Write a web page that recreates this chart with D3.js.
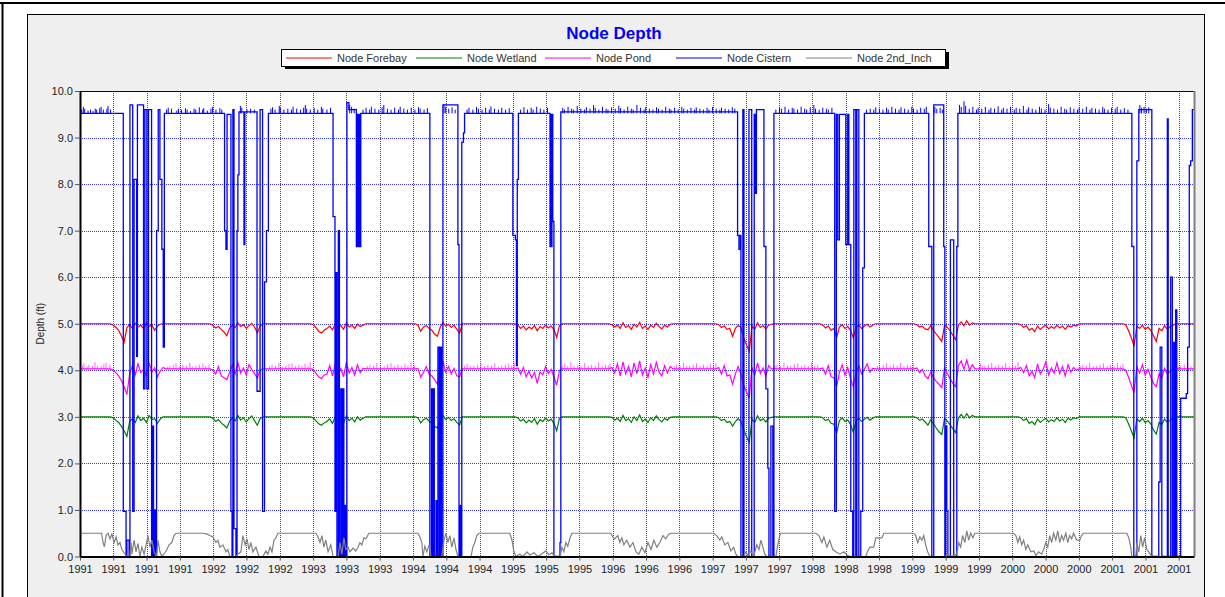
<!DOCTYPE html>
<html>
<head>
<meta charset="utf-8">
<script src="https://cdn.jsdelivr.net/npm/d3@7"></script>
<style>
  html, body { margin: 0; padding: 0; background: #fff; }
  svg { display: block; font-family: "Liberation Sans", Arial, sans-serif; }
</style>
</head>
<body>
<div id="chart"></div>
<script>
const WIDTH = 1225
const HEIGHT = 597
const PLOT = {left: 80, right: 1194, top: 91, bottom: 556.5}

// time axis: days since 1 Jan 1991
const DAY_MIN = 0
const DAY_MAX = 4015
const tickDays = [0, 120, 240, 360, 480, 600, 720, 840, 960, 1080, 1200, 1320, 1440, 1560, 1680, 1800,
  1920, 2040, 2160, 2280, 2400, 2520, 2640, 2760, 2880, 3000, 3120, 3240, 3360, 3480, 3600, 3720, 3840, 3960]
const tickLabels = ["1991", "1991", "1991", "1991", "1992", "1992", "1992", "1993", "1993", "1993",
  "1994", "1994", "1994", "1995", "1995", "1995", "1996", "1996", "1996", "1997", "1997", "1997",
  "1998", "1998", "1998", "1999", "1999", "1999", "2000", "2000", "2000", "2001", "2001", "2001"]
const depthTicks = [0, 1, 2, 3, 4, 5, 6, 7, 8, 9, 10]

const seriesNames = ["Node Forebay", "Node Wetland", "Node Pond", "Node Cistern", "Node 2nd_Inch"]
const seriesColors = ["#ff0000", "#008000", "#ff00ff", "#0000ff", "#808080"]

// resting levels (ft)
const forebayBase = 5.0
const wetlandBase = 3.0
const pondBase = 4.03
const cisternBase = 9.52

// noisy stretches of forebay / wetland / pond, sampled every NOISE_STEP days
const NOISE_STEP = 10
const noiseStarts = [119, 479, 840, 1218, 1578, 1917, 2302, 2677, 3016, 3391, 3769]

const forebayNoise = [
  [4.97, 4.93, 4.86, 4.74, 4.60, 4.92, 4.98, 4.90, 5.01, 4.93, 4.97, 4.89, 5.02, 4.94, 4.97, 4.86, 4.95, 4.99, 5.0],
  [4.96, 4.91, 4.94, 4.88, 4.82, 4.74, 4.90, 4.97, 4.92, 5.02, 4.94, 4.98, 4.90, 4.96, 5.01, 4.93, 4.80, 4.95],
  [4.98, 4.92, 4.84, 4.80, 4.86, 4.90, 4.95, 4.87, 4.99, 4.91, 4.96, 4.88, 5.02, 4.93, 4.97, 4.90, 4.99, 4.94, 4.97, 5.0],
  [4.97, 4.84, 4.93, 4.96, 4.90, 4.86, 4.78, 4.73, 4.92, 5.03, 4.95, 4.99, 4.92, 4.97, 4.88, 4.80],
  [4.97, 4.90, 4.95, 4.87, 4.93, 4.89, 4.96, 4.85, 4.94, 4.90, 4.97, 4.91, 4.95, 4.88, 4.71, 4.96],
  [4.98, 4.93, 4.97, 4.90, 5.02, 4.92, 4.96, 4.88, 4.99, 4.93, 5.03, 4.90, 4.95, 4.88, 4.97, 4.92, 5.01, 4.94, 4.89, 4.97, 4.93, 4.99, 5.0],
  [4.98, 4.92, 4.95, 4.88, 4.90, 4.73, 4.90, 4.96, 4.92, 4.70, 4.55, 4.41, 4.95, 4.88, 5.02, 4.92, 4.96, 4.89, 4.97, 4.99],
  [4.97, 4.91, 4.95, 4.86, 4.90, 4.70, 4.93, 4.98, 4.90, 4.94, 4.86, 4.70, 4.92, 4.97, 4.90, 4.95, 4.99, 4.93, 4.97, 5.0],
  [4.98, 4.93, 4.95, 4.89, 4.87, 4.96, 4.86, 4.78, 4.70, 4.62, 4.97, 4.92, 4.85, 4.75, 4.66, 4.98, 5.04, 4.96, 5.06, 4.97, 5.02, 5.0],
  [4.98, 4.92, 4.96, 4.86, 4.90, 4.83, 4.95, 4.88, 4.93, 4.97, 4.89, 4.94, 4.90, 4.97, 4.91, 4.95, 4.88, 4.96, 4.93, 4.97, 4.95],
  [4.98, 4.85, 4.70, 4.52, 4.95, 4.90, 4.97, 4.88, 4.93, 4.86, 4.74, 4.62, 4.90, 4.85, 4.96, 4.88, 4.94, 4.97, 5.0]
]

const wetlandNoise = [
  [2.98, 2.93, 2.88, 2.80, 2.70, 2.58, 2.90, 2.96, 2.88, 3.02, 2.92, 2.97, 2.88, 3.03, 2.94, 2.96, 2.86, 2.95, 3.0],
  [2.97, 2.90, 2.94, 2.87, 2.82, 2.76, 2.90, 2.98, 2.91, 3.03, 2.93, 2.98, 2.89, 2.96, 3.02, 2.92, 2.82, 2.96],
  [2.98, 2.92, 2.85, 2.82, 2.87, 2.90, 2.96, 2.86, 3.00, 2.90, 2.96, 2.87, 3.02, 2.92, 2.97, 2.89, 3.00, 2.93, 2.97, 3.0],
  [2.98, 2.87, 2.94, 2.97, 2.91, 2.86, 2.80, 2.76, 2.92, 3.03, 2.94, 2.99, 2.92, 2.96, 2.88, 2.82],
  [2.98, 2.91, 2.95, 2.87, 2.93, 2.88, 2.96, 2.84, 2.94, 2.90, 2.97, 2.91, 2.95, 2.86, 2.70, 2.97],
  [2.99, 2.93, 2.97, 2.90, 3.03, 2.92, 2.96, 2.88, 3.00, 2.92, 3.04, 2.90, 2.95, 2.88, 2.98, 2.92, 3.02, 2.94, 2.89, 2.97, 2.93, 2.99, 3.0],
  [2.98, 2.92, 2.95, 2.88, 2.90, 2.80, 2.90, 2.96, 2.90, 2.72, 2.58, 2.45, 2.95, 2.88, 3.02, 2.92, 2.96, 2.89, 2.97, 2.99],
  [2.98, 2.92, 2.95, 2.86, 2.84, 2.65, 2.92, 2.98, 2.90, 2.93, 2.84, 2.67, 2.92, 2.97, 2.90, 2.95, 2.99, 2.93, 2.97, 3.0],
  [2.98, 2.93, 2.95, 2.89, 2.82, 2.94, 2.85, 2.76, 2.68, 2.62, 2.97, 2.91, 2.83, 2.74, 2.66, 2.98, 3.05, 2.97, 3.07, 2.98, 3.03, 3.0],
  [2.98, 2.92, 2.96, 2.86, 2.90, 2.83, 2.95, 2.88, 2.93, 2.97, 2.89, 2.94, 2.90, 2.98, 2.91, 2.95, 2.88, 2.97, 2.93, 2.98, 2.96],
  [2.98, 2.85, 2.70, 2.55, 2.96, 2.90, 2.97, 2.88, 2.92, 2.85, 2.72, 2.63, 2.88, 2.84, 2.95, 2.88, 2.93, 2.97, 3.0]
]

const pondNoise = [
  [4.00, 3.95, 3.88, 3.78, 3.65, 3.48, 3.93, 4.10, 3.90, 4.14, 3.95, 4.02, 3.88, 4.16, 3.96, 4.05, 3.86, 3.98, 4.06],
  [4.00, 3.92, 4.08, 3.88, 3.84, 3.80, 3.95, 4.12, 3.92, 4.16, 3.94, 4.05, 3.90, 4.12, 4.02, 3.93, 3.83, 4.00],
  [4.02, 3.94, 3.86, 3.82, 3.90, 3.92, 4.10, 3.88, 4.14, 3.92, 4.04, 3.86, 4.18, 3.94, 4.06, 3.90, 4.12, 3.95, 4.04, 4.03],
  [4.04, 3.85, 3.96, 4.08, 3.92, 3.88, 3.80, 3.70, 3.95, 4.20, 3.96, 4.08, 3.92, 4.04, 3.88, 3.86],
  [4.05, 3.92, 4.06, 3.86, 3.98, 3.84, 3.95, 3.72, 3.96, 3.90, 4.08, 3.93, 4.02, 3.86, 3.68, 4.00],
  [4.06, 3.94, 4.14, 3.88, 4.18, 3.92, 4.08, 3.86, 4.16, 3.93, 4.20, 3.90, 4.05, 3.85, 4.12, 3.92, 4.17, 3.96, 3.88, 4.10, 3.94, 4.08, 4.03],
  [4.06, 3.92, 4.10, 3.88, 3.90, 3.70, 3.92, 4.08, 3.92, 3.68, 3.54, 3.40, 4.06, 3.90, 4.16, 3.93, 4.05, 3.88, 4.10, 4.03],
  [4.05, 3.92, 4.10, 3.86, 3.84, 3.65, 3.95, 4.12, 3.90, 4.06, 3.82, 3.65, 3.94, 4.10, 3.92, 4.02, 4.14, 3.96, 4.04, 4.03],
  [4.05, 3.95, 4.02, 3.88, 3.82, 3.96, 3.84, 3.76, 3.70, 3.63, 4.06, 3.93, 3.82, 3.72, 3.65, 4.10, 4.20, 4.02, 4.22, 4.00, 4.12, 4.03],
  [4.06, 3.95, 4.10, 3.88, 3.98, 3.84, 4.14, 3.92, 4.02, 4.18, 3.90, 4.05, 3.94, 4.16, 3.93, 4.08, 3.88, 4.12, 3.96, 4.06, 4.00],
  [4.00, 3.85, 3.68, 3.52, 4.08, 3.94, 4.12, 3.90, 4.02, 3.86, 3.72, 3.65, 3.92, 3.84, 4.04, 3.92, 3.98, 4.03, 4.03]
]

// short upward blips of the pond between the noisy stretches [day, depth]
const pondSpikes = [
  [9, 4.1], [14, 4.15], [26, 4.08], [32, 4.12], [45, 4.09], [54, 4.18], [63, 4.1], [76, 4.1], [86, 4.13], [94, 4.16], [108, 4.12],
  [316, 4.08], [324, 4.1], [336, 4.12], [346, 4.15], [360, 4.09], [371, 4.12], [384, 4.1], [396, 4.16], [405, 4.08],
  [418, 4.1], [430, 4.12], [443, 4.14], [452, 4.09], [465, 4.12],
  [683, 4.09], [692, 4.12], [705, 4.1], [717, 4.16], [730, 4.08], [742, 4.1], [753, 4.13], [764, 4.15], [777, 4.09],
  [789, 4.12], [800, 4.1], [811, 4.14], [822, 4.09], [830, 4.17],
  [1036, 4.09], [1045, 4.12], [1058, 4.1], [1070, 4.16], [1083, 4.08], [1096, 4.1], [1108, 4.13], [1121, 4.15],
  [1133, 4.09], [1146, 4.12], [1159, 4.1], [1171, 4.14], [1182, 4.1], [1193, 4.18], [1206, 4.1],
  [1386, 4.1], [1395, 4.14], [1408, 4.09], [1420, 4.1], [1433, 4.12], [1445, 4.16], [1458, 4.09], [1470, 4.12],
  [1483, 4.1], [1495, 4.15], [1508, 4.08], [1520, 4.1], [1533, 4.12], [1545, 4.14], [1556, 4.1], [1565, 4.17],
  [1738, 4.1], [1747, 4.14], [1758, 4.09], [1769, 4.18], [1781, 4.1], [1794, 4.12], [1806, 4.09], [1819, 4.16],
  [1832, 4.1], [1844, 4.12], [1857, 4.1], [1869, 4.17], [1882, 4.09], [1894, 4.12], [1904, 4.1], [1910, 4.15],
  [2142, 4.09], [2150, 4.12], [2163, 4.1], [2175, 4.16], [2186, 4.09], [2197, 4.1], [2210, 4.12], [2222, 4.15],
  [2235, 4.09], [2247, 4.12], [2260, 4.1], [2272, 4.14], [2283, 4.1], [2292, 4.16],
  [2505, 4.1], [2512, 4.12], [2525, 4.09], [2537, 4.16], [2550, 4.1], [2562, 4.1], [2575, 4.13], [2587, 4.15],
  [2600, 4.09], [2612, 4.12], [2625, 4.1], [2637, 4.17], [2648, 4.1], [2659, 4.12],
  [2874, 4.09], [2882, 4.1], [2895, 4.12], [2907, 4.15], [2920, 4.09], [2932, 4.12], [2945, 4.1], [2957, 4.16],
  [2970, 4.09], [2982, 4.12], [2994, 4.1], [3005, 4.15],
  [3246, 4.14], [3253, 4.09], [3261, 4.1], [3274, 4.12], [3286, 4.16], [3299, 4.09], [3311, 4.12], [3324, 4.1],
  [3336, 4.15], [3349, 4.09], [3361, 4.12], [3372, 4.1], [3381, 4.18],
  [3607, 4.09], [3614, 4.12], [3627, 4.1], [3639, 4.16], [3652, 4.09], [3664, 4.1], [3677, 4.12], [3689, 4.15],
  [3702, 4.09], [3714, 4.12], [3727, 4.1], [3739, 4.16], [3750, 4.09], [3759, 4.13],
  [3960, 4.08], [3967, 4.1], [3980, 4.12], [3992, 4.14], [4004, 4.09]
]

// cistern depth changes [day, depth], held until the next entry
const cisternSteps = [
  [0, 9.52],
  [156, 0.97], [166, 0], [169, 0.35], [177, 0], [180, 9.7], [190, 0.97], [195, 8.1], [204, 4.3], [207, 9.7],
  [229, 3.6], [234, 9.6], [241, 3.6], [247, 9.6], [258, 0], [261, 2.8], [265, 0], [268, 1.0], [272, 0],
  [276, 7.0], [282, 9.6], [288, 8.1], [295, 6.6], [300, 4.5], [304, 9.52],
  [521, 7.0], [526, 6.6], [530, 9.5], [544, 0.97], [548, 0], [551, 9.6], [555, 0.6], [562, 0], [566, 7.0],
  [569, 8.2], [573, 9.55], [591, 6.7], [594, 9.55], [638, 3.55], [649, 9.6], [658, 0.97], [665, 5.9],
  [672, 7.0], [679, 9.52],
  [912, 7.3], [919, 0.97], [922, 6.1], [926, 0], [931, 7.0], [935, 0], [940, 3.6], [944, 0], [948, 3.6],
  [951, 0], [955, 1.1], [958, 0], [962, 9.75], [969, 9.6], [996, 6.66], [1000, 9.5], [1003, 6.66],
  [1007, 9.5], [1010, 6.66], [1012, 9.52],
  [1261, 0], [1267, 3.6], [1270, 0], [1274, 3.6], [1277, 0], [1283, 1.2], [1286, 0], [1290, 4.5], [1295, 0],
  [1299, 4.5], [1303, 0], [1308, 9.7], [1362, 6.7], [1366, 0], [1369, 1.1], [1373, 0], [1376, 8.9],
  [1382, 9.1], [1386, 9.52],
  [1560, 6.9], [1569, 6.8], [1573, 4.1], [1576, 8.1], [1580, 9.52], [1694, 6.66], [1696, 9.5], [1699, 6.66],
  [1701, 9.5], [1704, 7.2], [1708, 0], [1730, 0.3], [1733, 9.55],
  [2370, 6.9], [2375, 6.6], [2380, 6.9], [2382, 0], [2389, 9.6], [2393, 0], [2411, 9.6], [2421, 0],
  [2430, 9.5], [2434, 7.8], [2438, 9.6], [2465, 6.66], [2472, 3.6], [2479, 1.9], [2483, 0], [2490, 2.8],
  [2497, 0], [2501, 9.52],
  [2720, 0.97], [2726, 9.5], [2731, 6.8], [2737, 9.5], [2760, 6.7], [2767, 9.5], [2771, 6.7], [2778, 0.97],
  [2785, 0], [2789, 9.6], [2796, 0], [2800, 9.6], [2807, 0], [2814, 0.97], [2821, 6.2], [2827, 9.52],
  [3059, 6.66], [3070, 0], [3077, 9.7], [3113, 6.66], [3117, 0], [3120, 2.8], [3124, 0.97], [3128, 0],
  [3137, 6.8], [3149, 0], [3160, 6.66], [3164, 9.52],
  [3791, 6.66], [3798, 0], [3809, 8.5], [3816, 9.6], [3863, 0], [3888, 1.6], [3893, 4.5], [3899, 0],
  [3919, 9.4], [3922, 0], [3931, 6.0], [3937, 0], [3942, 4.6], [3946, 0], [3949, 5.3], [3953, 0],
  [3967, 3.4], [3987, 3.5], [3992, 4.5], [3998, 8.4], [4003, 8.5], [4009, 9.6], [4015, 9.6]
]

// short upward blips of the full cistern [day, depth]
const cisternSpikes = [
  [6, 9.6], [12, 9.66], [17, 9.62], [29, 9.58], [38, 9.6], [47, 9.57], [55, 9.62], [60, 9.6], [71, 9.63],
  [76, 9.66], [84, 9.6], [97, 9.62], [101, 9.68], [110, 9.6],
  [312, 9.6], [318, 9.64], [330, 9.62], [349, 9.58], [355, 9.62], [366, 9.6], [380, 9.63], [386, 9.6], [398, 9.57],
  [411, 9.62], [417, 9.6], [430, 9.65], [442, 9.6], [446, 9.63], [459, 9.58], [472, 9.62], [478, 9.66], [490, 9.6],
  [504, 9.63], [511, 9.6],
  [578, 9.68], [583, 9.64], [602, 9.6], [615, 9.62], [628, 9.6],
  [688, 9.62], [694, 9.65], [703, 9.6], [718, 9.68], [722, 9.64], [735, 9.6], [749, 9.62], [762, 9.6], [768, 9.66],
  [781, 9.62], [795, 9.6], [806, 9.64], [812, 9.7], [817, 9.62], [830, 9.6], [844, 9.63], [857, 9.6], [870, 9.66],
  [875, 9.62], [890, 9.6], [903, 9.64],
  [972, 9.7], [979, 9.66], [988, 9.62],
  [1020, 9.6], [1031, 9.64], [1044, 9.6], [1050, 9.66], [1063, 9.62], [1077, 9.6], [1089, 9.65], [1095, 9.7],
  [1108, 9.62], [1121, 9.6], [1134, 9.64], [1148, 9.6], [1154, 9.66], [1167, 9.62], [1180, 9.6], [1194, 9.64],
  [1207, 9.6], [1220, 9.65], [1226, 9.62], [1240, 9.6], [1252, 9.63],
  [1312, 9.72], [1318, 9.66], [1329, 9.62], [1341, 9.65], [1352, 9.6],
  [1395, 9.6], [1402, 9.64], [1416, 9.6], [1429, 9.66], [1436, 9.62], [1449, 9.6], [1462, 9.64], [1475, 9.6],
  [1481, 9.67], [1494, 9.62], [1508, 9.6], [1520, 9.64], [1534, 9.6], [1547, 9.63],
  [1588, 9.6], [1600, 9.65], [1613, 9.6], [1626, 9.64], [1633, 9.6], [1646, 9.66], [1659, 9.62], [1672, 9.6], [1685, 9.64],
  [1740, 9.64], [1746, 9.6], [1759, 9.66], [1772, 9.62], [1779, 9.6], [1792, 9.68], [1805, 9.62], [1818, 9.6],
  [1825, 9.65], [1838, 9.62], [1851, 9.7], [1857, 9.64], [1870, 9.6], [1883, 9.66], [1896, 9.62], [1903, 9.6],
  [1916, 9.65], [1929, 9.62], [1942, 9.68], [1948, 9.63], [1961, 9.6], [1974, 9.66], [1987, 9.62], [1994, 9.6],
  [2007, 9.7], [2020, 9.64], [2033, 9.6], [2039, 9.66], [2052, 9.62], [2065, 9.6], [2078, 9.65], [2085, 9.62],
  [2098, 9.6], [2111, 9.66], [2124, 9.62], [2130, 9.6], [2143, 9.64], [2156, 9.6], [2169, 9.66], [2176, 9.62],
  [2189, 9.6], [2202, 9.64], [2215, 9.6], [2221, 9.65], [2234, 9.62], [2247, 9.6], [2260, 9.64], [2267, 9.6],
  [2280, 9.66], [2293, 9.62], [2306, 9.6], [2312, 9.64], [2325, 9.62], [2338, 9.6], [2351, 9.65], [2360, 9.62],
  [2508, 9.6], [2521, 9.64], [2528, 9.62], [2541, 9.66], [2554, 9.6], [2567, 9.64], [2573, 9.62], [2586, 9.6],
  [2599, 9.66], [2612, 9.62], [2619, 9.6], [2632, 9.65], [2645, 9.7], [2651, 9.62], [2664, 9.6], [2677, 9.64],
  [2690, 9.62], [2697, 9.6], [2710, 9.64],
  [2835, 9.6], [2848, 9.62], [2861, 9.6], [2868, 9.65], [2881, 9.62], [2894, 9.6], [2907, 9.64], [2913, 9.6],
  [2926, 9.66], [2939, 9.62], [2952, 9.6], [2959, 9.65], [2972, 9.62], [2985, 9.6], [2998, 9.66], [3004, 9.62],
  [3017, 9.6], [3030, 9.64], [3043, 9.62], [3050, 9.66],
  [3081, 9.66], [3088, 9.62], [3100, 9.64], [3108, 9.6],
  [3170, 9.7], [3176, 9.66], [3186, 9.78], [3192, 9.68], [3205, 9.62], [3218, 9.66], [3231, 9.6], [3237, 9.64],
  [3250, 9.62], [3263, 9.66], [3276, 9.6], [3283, 9.64], [3296, 9.62], [3309, 9.67], [3322, 9.6], [3328, 9.64],
  [3341, 9.62], [3354, 9.66], [3367, 9.6], [3374, 9.64], [3387, 9.62], [3400, 9.68], [3413, 9.6], [3419, 9.65],
  [3432, 9.62], [3445, 9.6], [3458, 9.66], [3465, 9.62], [3478, 9.6], [3491, 9.72], [3497, 9.64], [3510, 9.62],
  [3523, 9.6], [3536, 9.66], [3549, 9.62], [3556, 9.6], [3569, 9.65], [3582, 9.62], [3595, 9.6], [3601, 9.64],
  [3614, 9.62], [3627, 9.66], [3640, 9.6], [3647, 9.64], [3660, 9.62], [3673, 9.6], [3686, 9.66], [3692, 9.62],
  [3705, 9.6], [3718, 9.64], [3731, 9.62], [3738, 9.66], [3751, 9.6], [3764, 9.63], [3777, 9.6],
  [3820, 9.7], [3826, 9.64], [3835, 9.66], [3843, 9.62], [3852, 9.65]
]

// 2nd inch storage depth [day, depth]
const inchPoints = [
  [0, 0.5], [78, 0.5], [83, 0.3], [88, 0.21], [94, 0.45], [101, 0.5], [108, 0.38], [115, 0.48], [123, 0.3],
  [130, 0.42], [137, 0.25], [144, 0.3], [151, 0.15], [159, 0.08], [168, 0], [180, 0], [184, 0.3], [187, 0.05],
  [195, 0.35], [202, 0.1], [209, 0.28], [216, 0], [223, 0.2], [231, 0.05], [240, 0.3], [245, 0.45], [252, 0.2],
  [259, 0.35], [267, 0.1], [276, 0], [281, 0.35], [288, 0.1], [295, 0], [306, 0.08], [313, 0.15], [321, 0.25],
  [331, 0.3], [339, 0.45], [346, 0.5],
  [443, 0.5], [458, 0.48], [468, 0.45], [479, 0.42], [490, 0.3], [497, 0.35], [504, 0.2], [515, 0.25],
  [526, 0.1], [533, 0.15], [540, 0], [562, 0], [569, 0.05], [580, 0.1], [587, 0.45], [595, 0.25], [602, 0.38],
  [609, 0.15], [616, 0.3], [623, 0.1], [634, 0.2], [645, 0], [659, 0], [670, 0.12], [677, 0.05], [685, 0.2],
  [692, 0.1], [699, 0.35], [706, 0.4], [713, 0.5],
  [850, 0.5], [858, 0.42], [865, 0.3], [872, 0.45], [879, 0.2], [886, 0.35], [894, 0.1], [904, 0.25], [912, 0],
  [930, 0], [937, 0.3], [944, 0.05], [951, 0.4], [958, 0.15], [966, 0.2], [973, 0.1], [984, 0.18], [994, 0.12],
  [1002, 0.2], [1009, 0.3], [1016, 0.25], [1023, 0.4], [1031, 0.38], [1041, 0.5],
  [1218, 0.5], [1225, 0.42], [1232, 0.3], [1236, 0], [1243, 0.22], [1250, 0.1], [1258, 0.25], [1265, 0],
  [1304, 0], [1312, 0.35], [1319, 0.5], [1326, 0.3], [1333, 0.45], [1340, 0.2], [1348, 0.4], [1355, 0.15],
  [1362, 0], [1409, 0], [1416, 0.2], [1423, 0.3], [1430, 0.45], [1438, 0.5],
  [1549, 0.5], [1557, 0.35], [1564, 0.1], [1571, 0], [1585, 0.05], [1596, 0], [1611, 0.1], [1621, 0.03],
  [1636, 0.08], [1650, 0], [1665, 0.06], [1679, 0.12], [1690, 0.04], [1701, 0.08], [1712, 0], [1730, 0],
  [1737, 0.2], [1744, 0.1], [1751, 0.3], [1758, 0.22], [1766, 0.4], [1773, 0.5],
  [1913, 0.5], [1920, 0.42], [1927, 0.38], [1938, 0.45], [1946, 0.3], [1953, 0.4], [1960, 0.25], [1971, 0.35],
  [1982, 0.2], [1993, 0.3], [2004, 0.1], [2014, 0.05], [2025, 0.2], [2036, 0.08], [2047, 0.3], [2058, 0.15],
  [2068, 0.35], [2079, 0.2], [2090, 0.3], [2101, 0.45], [2111, 0.38], [2122, 0.48], [2130, 0.5],
  [2284, 0.5], [2295, 0.45], [2306, 0.35], [2313, 0.42], [2324, 0.25], [2335, 0.3], [2346, 0.12], [2356, 0.2],
  [2364, 0.05], [2371, 0], [2393, 0], [2400, 0.1], [2407, 0.02], [2418, 0.12], [2428, 0], [2439, 0.25],
  [2447, 0.15], [2454, 0.35], [2461, 0.2], [2468, 0.05], [2475, 0], [2508, 0], [2515, 0.25], [2522, 0.45], [2526, 0.5],
  [2652, 0.5], [2663, 0.45], [2674, 0.3], [2681, 0.42], [2692, 0.2], [2702, 0.35], [2713, 0.15], [2724, 0.1],
  [2739, 0.05], [2753, 0.1], [2767, 0.02], [2775, 0], [2832, 0], [2839, 0.12], [2847, 0.2], [2861, 0.2],
  [2868, 0.4], [2890, 0.4], [2897, 0.5],
  [3005, 0.5], [3012, 0.45], [3019, 0.3], [3027, 0.42], [3034, 0.35], [3041, 0.45], [3048, 0.25], [3055, 0.1],
  [3063, 0], [3120, 0], [3128, 0.05], [3139, 0], [3160, 0.05], [3167, 0.3], [3174, 0.2], [3181, 0.45],
  [3189, 0.3], [3196, 0.55], [3203, 0.35], [3210, 0.5], [3218, 0.4], [3225, 0.5],
  [3365, 0.5], [3373, 0.45], [3380, 0.3], [3387, 0.42], [3394, 0.25], [3401, 0.35], [3409, 0.15], [3416, 0.25],
  [3427, 0.1], [3438, 0.12], [3445, 0.02], [3455, 0.1], [3466, 0.05], [3473, 0.15], [3481, 0.3], [3488, 0.2],
  [3495, 0.45], [3502, 0.3], [3509, 0.5], [3517, 0.35], [3524, 0.55], [3531, 0.3], [3538, 0.45], [3545, 0.35],
  [3553, 0.5], [3560, 0.3], [3567, 0.45], [3574, 0.38], [3581, 0.5], [3592, 0.35], [3603, 0.35], [3610, 0.45], [3617, 0.5],
  [3773, 0.5], [3780, 0.4], [3787, 0.2], [3791, 0], [3805, 0], [3809, 0.3], [3816, 0.1], [3823, 0.45],
  [3830, 0.2], [3837, 0.4], [3845, 0.15], [3852, 0.1], [3863, 0], [4015, 0]
]

// put a base level and its noisy stretches together into one point list
const buildSeries = (base, noise) => {
  const pts = [[DAY_MIN, base]]
  noise.forEach((vals, i) => {
    const start = noiseStarts[i]
    pts.push([start - NOISE_STEP, base])
    vals.forEach((v, j) => pts.push([start + j * NOISE_STEP, v]))
    pts.push([start + vals.length * NOISE_STEP, base])
  })
  pts.push([DAY_MAX, base])
  return pts
}

const forebay = buildSeries(forebayBase, forebayNoise)
const wetland = buildSeries(wetlandBase, wetlandNoise)
const pond = buildSeries(pondBase, pondNoise)

const x = d3.scaleLinear().domain([DAY_MIN, DAY_MAX]).range([PLOT.left, PLOT.right])
const y = d3.scaleLinear().domain([0, 10]).range([PLOT.bottom, PLOT.top])

const svg = d3.select("#chart")
  .append("svg")
  .attr("width", WIDTH)
  .attr("height", HEIGHT)

// frame and panel
svg.append("rect")
  .attr("x", 27.5).attr("y", 14.5)
  .attr("width", 1177).attr("height", 590)
  .attr("fill", "#efefef")
  .attr("stroke", "#000")
svg.append("line")
  .attr("x1", 0).attr("x2", WIDTH).attr("y1", 3).attr("y2", 3)
  .attr("stroke", "#000").attr("stroke-width", 2)
svg.append("line")
  .attr("x1", 2.5).attr("x2", 2.5).attr("y1", 2).attr("y2", HEIGHT)
  .attr("stroke", "#000").attr("stroke-width", 2)

svg.append("rect")
  .attr("x", PLOT.left).attr("y", PLOT.top)
  .attr("width", PLOT.right - PLOT.left).attr("height", PLOT.bottom - PLOT.top)
  .attr("fill", "#fff")

// title
svg.append("text")
  .attr("x", 614).attr("y", 39)
  .attr("text-anchor", "middle")
  .attr("font-size", 17)
  .attr("font-weight", "bold")
  .attr("fill", "#0000ff")
  .text("Node Depth")

// grid
const grid = svg.append("g")
  .attr("stroke", "#3a3aff")
  .attr("stroke-width", 1)
  .attr("stroke-dasharray", "1,1")
  .attr("shape-rendering", "crispEdges")
grid.selectAll("line.v")
  .data(tickDays.slice(1))
  .join("line")
  .attr("class", "v")
  .attr("x1", d => Math.round(x(d)) + 0.5).attr("x2", d => Math.round(x(d)) + 0.5)
  .attr("y1", PLOT.top).attr("y2", PLOT.bottom)
grid.selectAll("line.h")
  .data(depthTicks.slice(1, -1))
  .join("line")
  .attr("class", "h")
  .attr("x1", PLOT.left).attr("x2", PLOT.right)
  .attr("y1", d => Math.round(y(d)) + 0.5).attr("y2", d => Math.round(y(d)) + 0.5)

svg.append("clipPath")
  .attr("id", "plot-clip")
  .append("rect")
  .attr("x", PLOT.left).attr("y", PLOT.top)
  .attr("width", PLOT.right - PLOT.left).attr("height", PLOT.bottom - PLOT.top)

const lines = svg.append("g").attr("clip-path", "url(#plot-clip)").attr("fill", "none")

const lineLinear = d3.line().x(d => x(d[0])).y(d => y(d[1]))
const lineStep = d3.line().x(d => x(d[0])).y(d => y(d[1])).curve(d3.curveStepAfter)
const spikePath = (spikes, base) => spikes.map(([d, v]) => `M${x(d)},${y(base)}V${y(v)}`).join("")

lines.append("path").attr("d", lineLinear(forebay)).attr("stroke", seriesColors[0]).attr("stroke-width", 1.2)
lines.append("path").attr("d", lineLinear(wetland)).attr("stroke", seriesColors[1]).attr("stroke-width", 1.2)
lines.append("path").attr("d", lineLinear(pond)).attr("stroke", seriesColors[2]).attr("stroke-width", 1.2)
lines.append("path").attr("d", spikePath(pondSpikes, pondBase)).attr("stroke", seriesColors[2]).attr("stroke-width", 1).attr("opacity", 0.6)
lines.append("path").attr("d", lineStep(cisternSteps)).attr("stroke", seriesColors[3]).attr("stroke-width", 1.3)
lines.append("path").attr("d", spikePath(cisternSpikes, cisternBase)).attr("stroke", seriesColors[3]).attr("stroke-width", 1)
lines.append("path").attr("d", lineLinear(inchPoints)).attr("stroke", seriesColors[4]).attr("stroke-width", 1.2)

// plot border
svg.append("line")
  .attr("x1", PLOT.left).attr("x2", PLOT.right).attr("y1", PLOT.top + 0.5).attr("y2", PLOT.top + 0.5)
  .attr("stroke", "#000060").attr("stroke-width", 1)
svg.append("line")
  .attr("x1", PLOT.right + 0.5).attr("x2", PLOT.right + 0.5).attr("y1", PLOT.top).attr("y2", PLOT.bottom)
  .attr("stroke", "#808080").attr("stroke-width", 2)

// axes
const xAxis = svg.append("g")
  .attr("transform", `translate(0,${PLOT.bottom})`)
  .call(d3.axisBottom(x).tickValues(tickDays).tickFormat((d, i) => tickLabels[i]).tickSize(4).tickSizeOuter(0).tickPadding(5))
const yAxis = svg.append("g")
  .attr("transform", `translate(${PLOT.left},0)`)
  .call(d3.axisLeft(y).tickValues(depthTicks).tickFormat(d3.format(".1f")).tickSize(5).tickSizeOuter(0).tickPadding(2))

for (const ax of [xAxis, yAxis]) {
  ax.select(".domain").attr("stroke", "#000").attr("stroke-width", 2)
  ax.selectAll(".tick line").attr("stroke", "#555")
  ax.selectAll(".tick text")
    .attr("font-family", "Liberation Sans, Arial, sans-serif")
    .attr("font-size", 11)
    .attr("fill", "#222")
}

svg.append("text")
  .attr("transform", `translate(44,${(PLOT.top + PLOT.bottom) / 2}) rotate(-90)`)
  .attr("text-anchor", "middle")
  .attr("font-size", 10)
  .attr("fill", "#222")
  .text("Depth (ft)")

// legend
const legendX = [286, 416, 545, 676, 806]
svg.append("rect")
  .attr("x", 285).attr("y", 52)
  .attr("width", 664).attr("height", 17)
  .attr("fill", "#000")
svg.append("rect")
  .attr("x", 281.5).attr("y", 49.5)
  .attr("width", 664).attr("height", 17)
  .attr("fill", "#fff")
  .attr("stroke", "#000")

const legend = svg.append("g")
  .selectAll("g")
  .data(seriesNames)
  .join("g")
  .attr("transform", (d, i) => `translate(${legendX[i]},58)`)
legend.append("line")
  .attr("x1", 0).attr("x2", 46)
  .attr("stroke", (d, i) => seriesColors[i])
  .attr("stroke-width", 1)
legend.append("text")
  .attr("x", 51).attr("y", 4)
  .attr("font-size", 11)
  .attr("fill", "#333")
  .text(d => d)
</script>
</body>
</html>
